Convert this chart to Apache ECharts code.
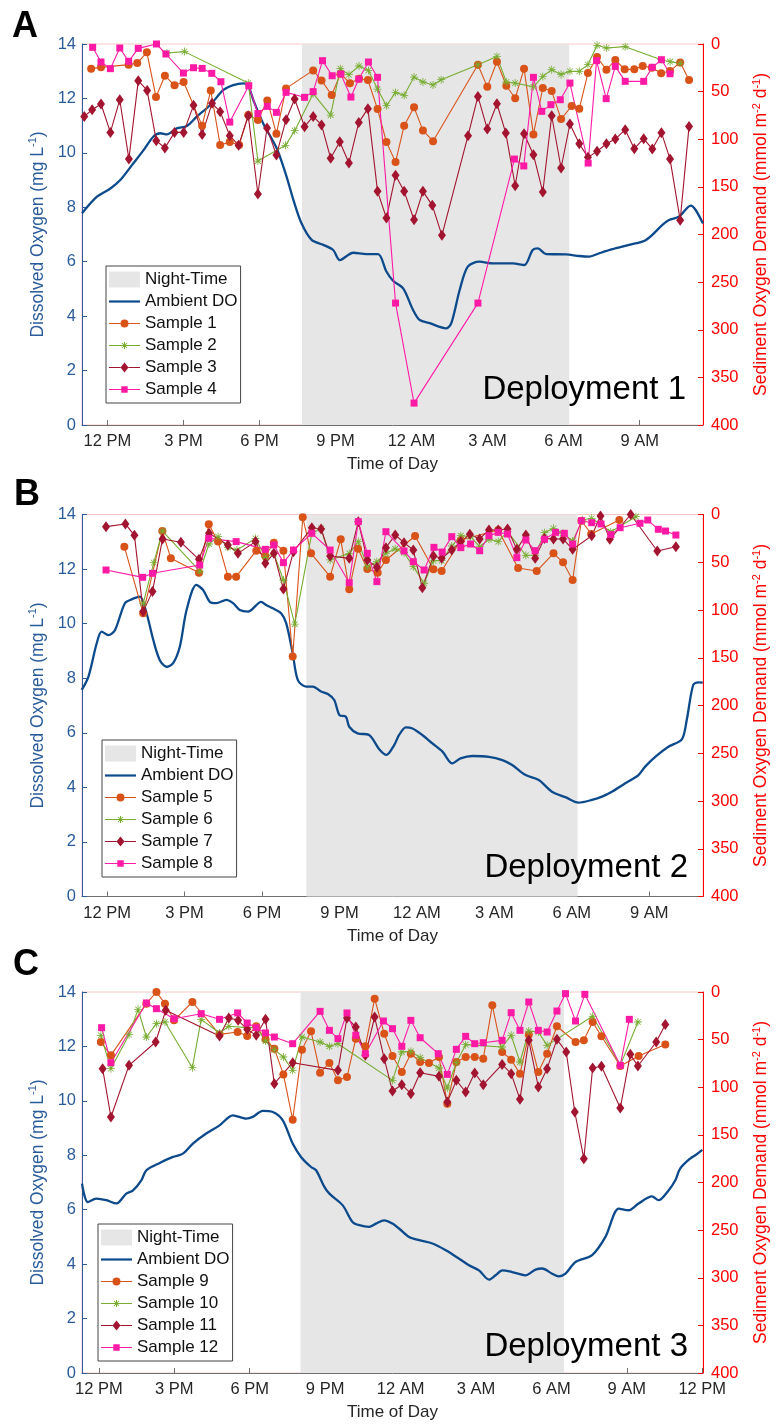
<!DOCTYPE html>
<html><head><meta charset="utf-8">
<script src="https://cdn.jsdelivr.net/npm/echarts@6/dist/echarts.min.js"></script>
<style>html,body{margin:0;padding:0;background:#fff}#c{width:778px;height:1426px}</style>
</head><body><div id="c"></div>
<script>
// ---------- DATA (hours since midnight of day 1; DO in mg/L; SOD in mmol m-2 d-1) ----------
const ticksAB = [12, 15, 18, 21, 24, 27, 30, 33];
const ticksC = [12, 15, 18, 21, 24, 27, 30, 33, 36];
const sampleNamesA = ['Sample 1', 'Sample 2', 'Sample 3', 'Sample 4'];
const sampleNamesB = ['Sample 5', 'Sample 6', 'Sample 7', 'Sample 8'];
const sampleNamesC = ['Sample 9', 'Sample 10', 'Sample 11', 'Sample 12'];

// Deployment 1
const nightA = [19.68, 30.22];
const doA = [[11.0,7.78],[11.59,8.39],[12.12,8.69],[12.51,9.0],[12.97,9.55],[13.43,10.1],[13.82,10.6],[14.09,10.72],[14.35,10.68],[14.74,10.9],[15.14,10.99],[15.53,11.33],[16.06,11.76],[16.58,12.31],[16.97,12.49],[17.37,12.55],[17.56,12.46],[17.76,11.94],[18.15,11.08],[18.68,10.17],[19.07,9.13],[19.34,8.27],[19.66,7.41],[20.06,6.8],[20.52,6.62],[20.91,6.43],[21.17,6.06],[21.7,6.33],[22.22,6.28],[22.68,6.28],[23.01,5.64],[23.27,5.3],[23.67,5.02],[24.06,4.23],[24.32,3.86],[24.72,3.74],[25.37,3.55],[25.57,3.74],[25.9,4.96],[26.22,5.82],[26.68,6.0],[27.21,5.94],[28.0,5.94],[28.45,5.88],[28.78,6.43],[28.98,6.49],[29.31,6.28],[30.1,6.27],[30.62,6.21],[31.02,6.19],[31.41,6.31],[31.93,6.46],[32.59,6.62],[33.25,6.8],[33.9,7.35],[34.16,7.53],[34.56,7.66],[35.02,8.06],[35.21,7.9],[35.5,7.4]];
const s1 = [[11.36,25.9],[11.75,24.5],[12.84,21.7],[13.18,20],[13.56,8.75],[13.92,55.7],[14.27,33.3],[14.65,43.4],[15.01,39.9],[15.74,85.8],[16.08,48.7],[16.45,106],[16.83,103],[17.2,106],[17.56,74.6],[17.94,79.8],[18.31,59.2],[18.67,94.2],[19.05,46.6],[20.12,27.7],[20.45,38.2],[20.85,53.6],[21.2,31.2],[21.57,41.3],[21.93,36.4],[22.28,37.8],[22.66,68.3],[23.01,102.9],[23.37,124],[23.71,85.8],[24.1,66.5],[24.45,90.7],[24.85,102],[26.62,21.7],[26.99,45],[27.37,18.6],[27.74,43.8],[28.09,57],[28.44,25.9],[28.81,94.9],[29.18,46.2],[29.53,49.4],[29.9,78.8],[30.32,65.1],[30.62,67.9],[30.96,30.5],[31.32,13.7],[31.69,27],[32.04,16.8],[32.41,26.6],[32.79,26.6],[33.12,23.1],[33.48,24.9],[33.85,30.8],[34.2,28.4],[34.6,19.3],[34.95,37.8]];
const s2 = [[14.35,9.5],[15.04,8],[17.56,41],[17.94,122.9],[19.03,106.4],[19.39,91],[20.12,52.2],[20.81,74.6],[21.19,25.9],[21.53,32.2],[21.93,23.1],[22.3,27.7],[22.66,47.3],[23.01,64.8],[23.37,50.8],[23.71,53.9],[24.1,34.7],[24.45,39.9],[24.85,43],[25.17,37.5],[26.62,21.7],[27.37,13],[27.74,39.9],[28.09,41],[28.81,45],[29.18,34],[29.53,27],[29.9,31.9],[30.25,28.7],[30.62,28.7],[30.96,21.7],[31.32,1.4],[31.69,4.2],[32.43,2.8],[33.85,16.5],[34.2,18.6],[34.6,20.3]];
const s3 = [[11.09,76],[11.4,69],[11.75,63],[12.12,92.8],[12.49,58.5],[12.85,120.8],[13.22,38.5],[13.57,48.7],[13.93,101.5],[14.27,109.2],[14.65,92.8],[15.01,92.8],[15.4,64.4],[15.74,94.9],[16.13,62.3],[16.45,71],[16.83,96.3],[17.18,106.4],[17.56,75.3],[17.94,157.5],[18.3,88.2],[18.67,116.6],[19.05,79.5],[19.39,57.8],[19.78,86.8],[20.12,76],[20.45,85],[20.81,120],[21.17,102.6],[21.53,125],[21.92,82.3],[22.28,67.9],[22.66,154.7],[23.01,182.7],[23.37,137.9],[23.71,154.7],[24.1,184.5],[24.45,154.7],[24.82,169.4],[25.2,200.9],[26.23,96.3],[26.62,55],[26.99,89.3],[27.37,62.7],[27.72,93.5],[28.09,148.8],[28.44,94.2],[28.81,116.2],[29.18,155.4],[29.53,75.3],[29.9,130.2],[30.25,84],[30.62,104.7],[30.96,119],[31.32,112.7],[31.69,104.7],[32.04,99.8],[32.43,90],[32.79,109.9],[33.16,99.4],[33.5,110.3],[33.86,93.1],[34.2,120.8],[34.6,185],[34.95,86.5]];
const s4 = [[11.42,3.5],[11.75,18.9],[12.12,25.9],[12.49,4.2],[12.84,18.2],[13.22,4.6],[13.94,0],[14.31,10.5],[15.0,30.5],[15.4,24.9],[15.74,25.6],[16.12,30.8],[16.48,39.6],[16.83,82],[17.58,43.8],[17.94,73],[18.31,65.5],[18.67,71.8],[19.05,50.8],[19.78,56],[20.12,50],[20.49,17.5],[20.87,33.3],[21.21,31.5],[21.61,55.7],[21.92,36.8],[22.3,18.9],[22.66,35],[23.37,272],[24.1,377],[26.62,272],[28.06,120.8],[28.43,128],[28.81,35],[29.14,70.7],[29.5,63.7],[29.87,58.5],[30.25,41],[30.97,125],[31.3,17.5],[31.68,57.4],[32.04,23.5],[32.43,39.2],[33.16,39.2],[33.5,24.5],[33.86,16.5],[34.2,31.2]];

// Deployment 2
const nightB = [19.72, 30.22];
const doB = [[11.02,7.57],[11.28,8.06],[11.6,9.28],[11.79,9.71],[12.05,9.58],[12.31,9.77],[12.69,10.75],[12.95,10.89],[13.27,10.99],[13.53,10.38],[13.79,9.4],[14.04,8.67],[14.3,8.42],[14.56,8.55],[14.82,9.16],[15.08,10.5],[15.46,11.42],[15.72,11.23],[15.98,10.8],[16.23,10.75],[16.62,10.87],[16.88,10.75],[17.14,10.5],[17.46,10.44],[17.97,10.8],[18.16,10.68],[18.42,10.56],[18.74,10.38],[18.94,10.01],[19.19,8.91],[19.39,7.93],[19.71,7.69],[19.97,7.69],[20.29,7.51],[20.55,7.42],[20.8,7.2],[21.0,6.65],[21.25,6.59],[21.38,6.22],[21.7,5.98],[22.15,5.92],[22.54,5.4],[22.82,5.19],[23.12,5.55],[23.31,5.92],[23.57,6.2],[23.83,6.16],[24.21,5.92],[24.6,5.61],[24.99,5.31],[25.37,4.88],[25.69,5.06],[26.15,5.15],[26.79,5.12],[27.31,5.0],[27.69,4.82],[28.21,4.45],[28.72,4.27],[29.23,3.84],[29.75,3.64],[30.26,3.44],[30.78,3.54],[31.17,3.66],[31.55,3.84],[32.07,4.15],[32.58,4.45],[32.84,4.76],[33.23,5.12],[33.74,5.49],[34.26,5.76],[34.45,6.47],[34.7,7.75],[34.9,7.85],[35.07,7.84]];
const s5 = [[12.67,33.7],[13.4,103.5],[14.14,17.3],[14.47,45.9],[15.56,60.9],[15.94,10.3],[16.3,28.4],[16.68,65.1],[17.0,65.1],[17.78,37.9],[18.13,43.5],[18.46,29.5],[18.83,37.9],[19.19,148.8],[19.58,3],[19.9,40.7],[20.64,65.1],[21.05,26],[21.38,78.4],[21.72,35.8],[22.08,57.1],[22.48,60.9],[22.8,47.6],[23.93,22.5],[24.64,57.4],[24.96,59.2],[25.7,26.7],[27.15,16.2],[27.92,56],[28.64,59.2],[29.29,40.7],[29.66,50.1],[30.03,68.6],[30.37,6.5],[30.75,20.4],[31.84,5.8]];
const s6 = [[13.4,93],[13.81,50.4],[14.15,17.3],[15.59,59.2],[15.95,30.9],[16.3,23.2],[16.68,34.4],[17.03,37.2],[17.75,25],[18.13,44.8],[18.46,40.7],[18.83,68.6],[19.27,114.7],[19.93,19.7],[20.29,14.5],[20.64,47.6],[21.38,40.7],[21.73,28.4],[22.08,54.6],[22.45,49.4],[22.8,40.7],[23.16,36.1],[23.5,40],[23.86,54.6],[24.28,72],[24.64,48.3],[24.96,48.3],[25.35,33],[25.7,22.2],[26.08,23.2],[26.43,33.7],[26.79,26],[27.15,28.4],[27.51,18],[28.22,42.7],[28.58,42.7],[28.94,19],[29.29,14.5],[29.66,19.7],[30.03,27.7],[30.42,5.8],[30.77,4],[31.51,18],[32.48,2.3]];
const s7 = [[11.96,12.7],[12.71,9.9],[13.06,21.8],[13.4,101.7],[13.76,80.5],[14.15,25.6],[14.86,29.1],[15.56,46.9],[15.95,19.7],[16.68,31.9],[17.07,40.7],[17.75,28.4],[18.13,51.1],[18.46,40.7],[18.83,78],[19.22,38.9],[19.93,13.8],[20.29,15.2],[20.64,43.5],[21.38,45.9],[21.73,7.5],[22.08,47.6],[22.45,55.3],[22.8,34.7],[23.16,21.5],[23.5,29.5],[23.86,37.2],[24.21,76.6],[24.64,43.5],[24.96,45.9],[25.35,37.2],[25.7,28.4],[26.05,20.8],[26.43,25.6],[26.79,16.2],[27.15,16.2],[27.51,15.2],[27.87,36.5],[28.22,21.5],[28.58,45.9],[28.94,25],[29.29,25.6],[29.66,25.6],[30.03,36.5],[30.77,22.2],[31.11,1.6],[31.47,26],[32.28,0],[33.31,38.2],[34.03,33.7]];
const s8 = [[11.96,58.1],[13.38,65.8],[13.76,61.6],[15.59,52.9],[15.94,25],[17.0,28.4],[18.13,36.5],[18.46,31.9],[18.83,50.4],[19.22,37.2],[19.93,19.7],[20.64,37.2],[21.38,71.4],[21.73,7.5],[22.08,40.7],[22.45,70.3],[22.8,18],[23.5,38.2],[23.86,49.4],[24.28,58.1],[24.66,34.4],[24.98,39.3],[25.35,23.2],[25.7,34.7],[26.08,30.9],[26.43,37.9],[26.79,22.2],[27.15,18.7],[27.51,20.4],[27.87,45.2],[28.22,26.7],[28.58,37.9],[28.94,26],[29.37,18.7],[29.71,19.7],[30.03,30.9],[30.37,6.5],[30.77,8.6],[31.13,9.9],[31.51,21.1],[31.87,13.8],[32.64,9.2],[32.94,5.8],[33.35,15.5],[33.63,17.3],[34.03,21.5]];

// Deployment 3
const nightC = [20.02, 30.5];
const doC = [[11.33,6.96],[11.56,6.28],[11.9,6.41],[12.3,6.35],[12.7,6.23],[13.09,6.59],[13.36,6.71],[13.69,7.08],[13.89,7.45],[14.42,7.72],[14.95,7.94],[15.34,8.06],[15.74,8.43],[16.27,8.8],[16.8,9.1],[17.33,9.47],[17.86,9.35],[18.12,9.41],[18.52,9.63],[18.92,9.59],[19.31,9.29],[19.71,8.43],[20.04,7.94],[20.44,7.57],[20.64,7.45],[20.97,6.84],[21.17,6.59],[21.7,6.16],[22.09,5.55],[22.36,5.43],[22.75,5.37],[23.02,5.49],[23.35,5.61],[23.68,5.49],[23.94,5.31],[24.34,5.0],[24.74,4.88],[25.27,4.76],[25.8,4.51],[26.33,4.2],[26.72,3.96],[27.12,3.77],[27.52,3.43],[27.78,3.59],[28.05,3.77],[28.44,3.71],[28.97,3.59],[29.37,3.8],[29.63,3.84],[30.03,3.65],[30.29,3.55],[30.56,3.65],[30.96,4.08],[31.62,4.33],[32.15,5.0],[32.68,6.04],[33.07,5.98],[33.47,6.23],[34.0,6.49],[34.26,6.35],[34.66,6.71],[34.93,7.08],[35.12,7.51],[35.52,7.88],[35.78,8.04],[36.0,8.2]];
const s9 = [[12.08,52.5],[12.48,66.5],[13.89,12.25],[14.29,0],[14.63,12.25],[14.99,29.75],[15.72,10.5],[16.8,44.5],[17.52,42],[17.9,46.2],[18.26,36],[18.63,49.7],[18.98,59.5],[19.34,86.5],[19.71,134],[20.08,60.5],[20.44,41.3],[20.8,84.7],[21.17,74.5],[21.51,92.75],[21.87,89.25],[22.22,49],[22.6,57],[22.97,7],[23.35,43.75],[23.68,67.2],[24.05,84],[24.41,64.75],[24.78,73.5],[25.13,74.55],[25.53,68.25],[25.86,117.25],[26.22,73.5],[26.59,68.25],[26.95,68.25],[27.29,70],[27.65,14],[28.04,63],[28.4,71],[28.75,85.75],[29.1,44.8],[29.48,84],[29.83,64.75],[30.22,36],[30.96,52.5],[31.29,50.75],[31.64,31.5],[31.99,46.5],[32.74,77.7],[33.47,67.2],[34.53,55]];
const s10 = [[12.08,45.5],[12.48,80.5],[13.2,44.8],[13.56,18.2],[13.89,47.25],[14.29,33.25],[14.63,31.5],[15.72,79.45],[16.07,28.7],[16.8,43],[17.17,36],[17.9,37.45],[18.26,37.45],[18.63,51.45],[18.98,60.55],[19.34,68.25],[19.71,82.25],[20.08,47.25],[20.8,52.5],[21.17,57],[21.51,54.25],[23.68,92.75],[24.05,63],[24.41,62.3],[24.78,69],[25.53,79.8],[25.86,100.8],[26.22,74.2],[26.59,55.3],[28.04,57.75],[28.4,45.5],[28.75,73.5],[29.1,41],[29.48,42],[29.83,56],[31.64,25.55],[32.74,77],[33.44,31.5]];
const s11 = [[12.15,80.5],[12.48,131.25],[13.2,77],[14.26,52.5],[14.66,19.25],[16.8,46.2],[17.17,27.3],[17.54,29.75],[17.9,39.2],[18.26,45.5],[18.63,28.7],[18.98,96.25],[19.71,74.2],[21.51,82.25],[21.87,27.3],[22.22,36.75],[22.6,66.5],[22.97,26.25],[23.35,70],[23.68,104],[24.05,97.3],[24.41,106.75],[24.78,84.7],[25.53,88.55],[25.86,115.5],[26.22,92.75],[26.59,105],[26.95,85],[27.29,97.3],[28.04,76],[28.4,85.75],[28.75,112.7],[29.1,50.75],[29.48,99.75],[29.83,80.5],[30.22,49.7],[30.59,63],[30.93,126],[31.29,175],[31.64,79.8],[31.99,78],[32.74,121.8],[33.14,65.45],[33.44,77.7],[34.17,52.5],[34.53,34]];
const s12 = [[12.11,37.45],[12.48,74.2],[13.89,11.55],[14.29,17.5],[14.99,28],[16.07,22.75],[16.8,28.7],[17.52,22],[17.9,32.55],[18.26,37.45],[18.63,43],[18.98,47.25],[19.71,54.25],[20.8,20.3],[21.17,40.25],[21.51,49],[21.87,22],[22.22,45.5],[22.6,64.75],[23.32,30.45],[23.68,38.5],[24.05,57],[24.41,29.75],[24.78,48],[25.5,64.75],[25.86,86.5],[26.22,60.2],[26.59,46.55],[26.95,54.25],[27.29,53.2],[28.04,50.75],[28.4,21.7],[28.75,40.25],[29.1,10.5],[29.48,40.25],[29.83,42],[30.22,20],[30.56,1.75],[30.96,30.45],[31.33,2.45],[32.74,77],[33.1,28.7]];

// ---------- STYLE ----------
const FONT = 'Liberation Sans, Arial, Helvetica, sans-serif';
const C_DO = '#0c4a8c', C_LEFT = '#2a5c9b', C_RIGHT = '#ff0000', C_X = '#707070', C_NIGHT = '#e6e6e6';
const sampleColors = ['#d95319', '#77ac30', '#a2142f', '#ff1aa6'];
const STAR = 'path://M9,0 L11,0 L11,20 L9,20 Z M0,9 L20,9 L20,11 L0,11 Z M3.6,2.2 L17.8,16.4 L16.4,17.8 L2.2,3.6 Z M17.8,3.6 L3.6,17.8 L2.2,16.4 L16.4,2.2 Z';
const sampleSymbols = ['circle', STAR, 'diamond', 'rect'];
const sampleSizes = [8, 8, [8, 11], 7];
const B = 'M0,0 M31,16 ';
function seg(a, b) { return 'M0,7.4 L' + a + ',7.4 L' + a + ',8.6 L0,8.6 Z M' + b + ',7.4 L31,7.4 L31,8.6 L' + b + ',8.6 Z '; }
const legendIcons = [
  'path://' + B + seg(11.5, 19.5) + 'M11.5,8 A4,4 0 1,1 19.5,8 A4,4 0 1,1 11.5,8 Z',
  'path://' + B + seg(12, 19) + 'M15,4.5 L16,4.5 L16,11.5 L15,11.5 Z M12,7.5 L19,7.5 L19,8.5 L12,8.5 Z M13.35,5.15 L18.35,10.15 L17.65,10.85 L12.65,5.85 Z M18.35,5.85 L13.35,10.85 L12.65,10.15 L17.65,5.15 Z',
  'path://' + B + seg(11.5, 19.5) + 'M15.5,3 L19.5,8 L15.5,13 L11.5,8 Z',
  'path://' + B + seg(12.3, 18.7) + 'M12.3,4.8 L18.7,4.8 L18.7,11.2 L12.3,11.2 Z'
];
const DO_ICON = 'path://' + B + 'M0,6.9 L31,6.9 L31,9.1 L0,9.1 Z';

function fmtHour(v) {
  const h = ((Math.round(v) % 24) + 24) % 24;
  const hr = h % 12 === 0 ? 12 : h % 12;
  return hr + (h < 12 ? ' AM' : ' PM');
}

const panels = [
  { night: nightA, dO: doA, samples: [s1, s2, s3, s4], names: sampleNamesA, xMin: 11.0, xMax: 35.5, ticks: ticksAB, top: 44, height: 381, lgLeft: 106, lgTop: 266, letter: 'A', letterLeft: 12, letterTop: 9, deploy: 'Deployment 1', deployRight: 92, deployTop: 373 },
  { night: nightB, dO: doB, samples: [s5, s6, s7, s8], names: sampleNamesB, xMin: 11.03, xMax: 35.08, ticks: ticksAB, top: 514.5, height: 382, lgLeft: 102, lgTop: 740, letter: 'B', letterLeft: 14, letterTop: 477, deploy: 'Deployment 2', deployRight: 90, deployTop: 851 },
  { night: nightC, dO: doC, samples: [s9, s10, s11, s12], names: sampleNamesC, xMin: 11.33, xMax: 36.03, ticks: ticksC, top: 992, height: 381, lgLeft: 98, lgTop: 1224, letter: 'C', letterLeft: 13, letterTop: 947, deploy: 'Deployment 3', deployRight: 90, deployTop: 1330 }
];

const option = { animation: false, textStyle: { fontFamily: FONT }, grid: [], xAxis: [], yAxis: [], series: [], legend: [], title: [] };

panels.forEach(function (p, i) {
  option.grid.push({ left: 82, width: 623, top: p.top, height: p.height, show: true, borderColor: '#f8c8c8', borderWidth: 1, backgroundColor: 'transparent' });
  option.xAxis.push({
    gridIndex: i, type: 'value', min: p.xMin, max: p.xMax,
    axisLine: { show: true, lineStyle: { color: C_X, width: 1 } },
    axisTick: { show: true, inside: true, length: 5, customValues: p.ticks, lineStyle: { color: C_X } },
    axisLabel: { customValues: p.ticks, formatter: fmtHour, fontSize: 16.5, color: '#262626', margin: 8, fontFamily: FONT },
    splitLine: { show: false },
    name: 'Time of Day', nameLocation: 'middle', nameGap: 31,
    nameTextStyle: { fontSize: 17, color: '#262626', fontFamily: FONT }
  });
  option.yAxis.push({
    gridIndex: i, type: 'value', min: 0, max: 14, interval: 2, position: 'left',
    axisLine: { show: true, lineStyle: { color: C_LEFT, width: 1 } },
    axisTick: { show: true, inside: true, length: 5, lineStyle: { color: C_LEFT } },
    axisLabel: { fontSize: 16.5, color: C_LEFT, margin: 6, fontFamily: FONT },
    splitLine: { show: false },
    name: '{t|Dissolved Oxygen (mg L}{s|-1}{t|)}', nameLocation: 'middle', nameGap: 27, nameRotate: 90,
    nameTextStyle: { color: C_LEFT, fontSize: 17.5, fontFamily: FONT, rich: {
      t: { fontSize: 17.5, color: C_LEFT, lineHeight: 20, fontFamily: FONT },
      s: { fontSize: 11, color: C_LEFT, lineHeight: 10, verticalAlign: 'top', fontFamily: FONT } } }
  });
  option.yAxis.push({
    gridIndex: i, type: 'value', min: 0, max: 400, interval: 50, inverse: true, position: 'right',
    axisLine: { show: true, lineStyle: { color: C_RIGHT, width: 1 } },
    axisTick: { show: true, inside: true, length: 5, lineStyle: { color: C_RIGHT } },
    axisLabel: { fontSize: 16.5, color: C_RIGHT, margin: 8, fontFamily: FONT },
    splitLine: { show: false },
    name: '{t|Sediment Oxygen Demand (mmol m}{s|-2}{t| d}{s|-1}{t|)}', nameLocation: 'middle', nameGap: 48, nameRotate: 90,
    nameTextStyle: { color: C_RIGHT, fontSize: 17.5, fontFamily: FONT, rich: {
      t: { fontSize: 17.5, color: C_RIGHT, lineHeight: 20, fontFamily: FONT },
      s: { fontSize: 11, color: C_RIGHT, lineHeight: 10, verticalAlign: 'top', fontFamily: FONT } } }
  });

  option.series.push({
    name: 'Night-Time', type: 'line', xAxisIndex: i, yAxisIndex: 2 * i, data: [], z: 1,
    color: C_NIGHT, itemStyle: { color: C_NIGHT }, lineStyle: { color: C_NIGHT },
    markArea: { silent: true, itemStyle: { color: C_NIGHT, opacity: 1 },
      data: [[{ xAxis: p.night[0] }, { xAxis: p.night[1] }]] }
  });
  option.series.push({
    name: 'Ambient DO', type: 'line', xAxisIndex: i, yAxisIndex: 2 * i, data: p.dO, z: 3,
    symbol: 'none', showSymbol: false, smooth: 0.3, color: C_DO,
    lineStyle: { color: C_DO, width: 2.3 }, emphasis: { disabled: true }
  });
  p.samples.forEach(function (d, k) {
    option.series.push({
      name: p.names[k], type: 'line', xAxisIndex: i, yAxisIndex: 2 * i + 1, data: d, z: 4,
      symbol: sampleSymbols[k], symbolSize: sampleSizes[k], color: sampleColors[k],
      itemStyle: { color: sampleColors[k], borderWidth: 0 },
      lineStyle: { color: sampleColors[k], width: 1.1 }, emphasis: { disabled: true }
    });
  });

  option.legend.push({
    left: p.lgLeft, top: p.lgTop, orient: 'vertical', selectedMode: false,
    itemWidth: 31, itemHeight: 16, itemGap: 5, padding: [5, 3, 5, 3],
    borderColor: '#444', borderWidth: 1, backgroundColor: '#fff',
    itemStyle: { borderWidth: 0 },
    textStyle: { fontSize: 17, color: '#111', lineHeight: 17, fontFamily: FONT },
    data: [{ name: 'Night-Time', icon: 'rect' }, { name: 'Ambient DO', icon: DO_ICON }]
      .concat(p.names.map(function (n, k) { return { name: n, icon: legendIcons[k] }; }))
  });

  option.title.push({ text: p.letter, left: p.letterLeft, top: p.letterTop, padding: 0,
    textStyle: { fontSize: 36, fontWeight: 'bold', color: '#000', fontFamily: FONT } });
  option.title.push({ text: p.deploy, right: p.deployRight, top: p.deployTop, padding: 0,
    textStyle: { fontSize: 33, fontWeight: 'normal', color: '#000', fontFamily: FONT } });
});

const chart = echarts.init(document.getElementById('c'), null, { renderer: 'canvas' });
chart.setOption(option);
</script></body></html>
